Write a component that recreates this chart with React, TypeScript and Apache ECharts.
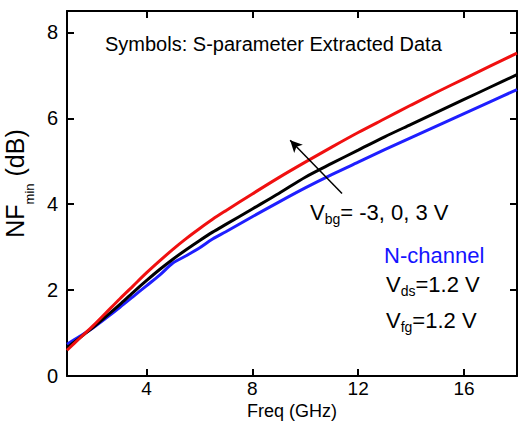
import React, { useEffect, useRef } from "react";
import * as echarts from "echarts";

const freq = [1, 1.5, 2, 2.5, 3, 3.5, 4, 4.5, 5, 5.5, 6, 6.5, 7, 8, 9, 10, 11, 12, 13, 14, 15, 16, 17, 18];
const nfVbgM3 = [0.74, 0.93, 1.13, 1.36, 1.6, 1.85, 2.1, 2.35, 2.63, 2.8, 2.98, 3.19, 3.36, 3.71, 4.05, 4.38, 4.69, 4.98, 5.27, 5.55, 5.83, 6.11, 6.39, 6.67];
const nfVbg0 = [0.66, 0.9, 1.14, 1.4, 1.67, 1.95, 2.22, 2.48, 2.72, 2.94, 3.15, 3.35, 3.53, 3.89, 4.25, 4.63, 4.95, 5.26, 5.57, 5.86, 6.15, 6.44, 6.73, 7.02];
const nfVbgP3 = [0.6, 0.89, 1.18, 1.49, 1.8, 2.1, 2.4, 2.68, 2.95, 3.2, 3.43, 3.65, 3.85, 4.24, 4.62, 4.98, 5.33, 5.67, 5.99, 6.31, 6.62, 6.92, 7.22, 7.52];
const xTicks = [4, 8, 12, 16];
const arrowFrom = [11.39, 4.25];
const arrowTo = [9.43, 5.49];

const FONT = "'Liberation Sans', Arial, sans-serif";

export default function App() {
  const ref = useRef<HTMLDivElement>(null);
  useEffect(() => {
    if (!ref.current) return;
    const chart = echarts.init(ref.current, null, { renderer: "svg" });
    const pairs = (ys: number[]) => freq.map((x, i) => [x, ys[i]]);
    const axisLine = { show: true, onZero: false, lineStyle: { color: "#000", width: 2 } };
    const sub = { fontSize: 14, lineHeight: 16, padding: [14, 0, 0, 0], fontFamily: FONT, fill: "#000" };
    const main = { fontSize: 22, lineHeight: 22, fontFamily: FONT };
    chart.setOption({
      animation: false,
      backgroundColor: "#fff",
      grid: { left: 67, right: 5, top: 11, bottom: 46, containLabel: false, outerBoundsMode: "none" },
      xAxis: [
        {
          type: "value",
          min: 1,
          max: 18,
          name: "Freq (GHz)",
          nameLocation: "middle",
          nameGap: 26,
          nameMoveOverlap: false,
          nameTextStyle: { fontSize: 18, lineHeight: 18, color: "#000", fontFamily: FONT, verticalAlign: "top" },
          axisLine,
          axisTick: { show: true, inside: true, length: 7, lineStyle: { color: "#000", width: 2 }, customValues: xTicks },
          axisLabel: { show: true, margin: 3, fontSize: 19, lineHeight: 19, color: "#000", fontFamily: FONT, customValues: xTicks },
          splitLine: { show: false },
        },
        {
          type: "value",
          position: "top",
          min: 1,
          max: 18,
          axisLine,
          axisTick: { show: true, inside: true, length: 7, lineStyle: { color: "#000", width: 2 }, customValues: xTicks },
          axisLabel: { show: false },
          splitLine: { show: false },
        },
      ],
      yAxis: [
        {
          type: "value",
          min: 0,
          max: 8.5,
          interval: 2,
          name: "{m|NF}{s|min}{m| (dB)}",
          nameLocation: "middle",
          nameGap: 22,
          nameRotate: 90,
          nameTextStyle: {
            color: "#000",
            fontFamily: FONT,
            padding: [0, 0, 0, 20],
            rich: {
              m: { fontSize: 25, lineHeight: 26, fontFamily: FONT, color: "#000" },
              s: { fontSize: 13, lineHeight: 14, padding: [29, 0, 0, 0], fontFamily: FONT, color: "#000" },
            },
          },
          axisLine,
          axisTick: { show: true, inside: true, length: 7, lineStyle: { color: "#000", width: 2 } },
          axisLabel: { show: true, margin: 9, fontSize: 20, color: "#000", fontFamily: FONT, showMaxLabel: false },
          splitLine: { show: false },
        },
        {
          type: "value",
          position: "right",
          min: 0,
          max: 8.5,
          interval: 2,
          axisLine,
          axisTick: { show: true, inside: true, length: 7, lineStyle: { color: "#000", width: 2 } },
          axisLabel: { show: false },
          splitLine: { show: false },
        },
      ],
      series: [
        {
          name: "Vbg = -3 V",
          type: "line",
          data: pairs(nfVbgM3),
          showSymbol: false,
          smooth: 0.3,
          lineStyle: { color: "#1f1fff", width: 3 },
          itemStyle: { color: "#1f1fff" },
          z: 2,
        },
        {
          name: "Vbg = 0 V",
          type: "line",
          data: pairs(nfVbg0),
          showSymbol: false,
          smooth: 0.3,
          lineStyle: { color: "#000", width: 3 },
          itemStyle: { color: "#000" },
          z: 3,
          markLine: {
            silent: true,
            animation: false,
            symbol: ["none", "arrow"],
            symbolSize: [9, 12],
            label: { show: false },
            lineStyle: { color: "#000", width: 1.5, type: "solid" },
            data: [[{ coord: arrowFrom }, { coord: arrowTo }]],
          },
        },
        {
          name: "Vbg = 3 V",
          type: "line",
          data: pairs(nfVbgP3),
          showSymbol: false,
          smooth: 0.3,
          lineStyle: { color: "#f01010", width: 3 },
          itemStyle: { color: "#f01010" },
          z: 4,
        },
      ],
      graphic: [
        {
          type: "text",
          left: 105,
          top: 34,
          style: { text: "Symbols: S-parameter Extracted Data", fontSize: 20, fontFamily: FONT, fill: "#000" },
        },
        {
          type: "text",
          x: 310,
          y: 212,
          style: {
            text: "{m|V}{s|bg}{m|= -3, 0, 3 V}",
            verticalAlign: "middle",
            fill: "#000",
            rich: { m: main, s: sub },
          },
        },
        {
          type: "text",
          x: 384,
          y: 255,
          style: { text: "N-channel", fontSize: 22, fontFamily: FONT, fill: "#1414ff", verticalAlign: "middle" },
        },
        {
          type: "text",
          x: 386,
          y: 284,
          style: {
            text: "{m|V}{s|ds}{m|=1.2 V}",
            verticalAlign: "middle",
            fill: "#000",
            rich: { m: main, s: sub },
          },
        },
        {
          type: "text",
          x: 386,
          y: 320,
          style: {
            text: "{m|V}{s|fg}{m|=1.2 V}",
            verticalAlign: "middle",
            fill: "#000",
            rich: { m: main, s: sub },
          },
        },
      ],
    });
    return () => chart.dispose();
  }, []);
  return <div ref={ref} style={{ position: "fixed", left: 0, top: 0, width: 522, height: 422, background: "#fff" }} />;
}
